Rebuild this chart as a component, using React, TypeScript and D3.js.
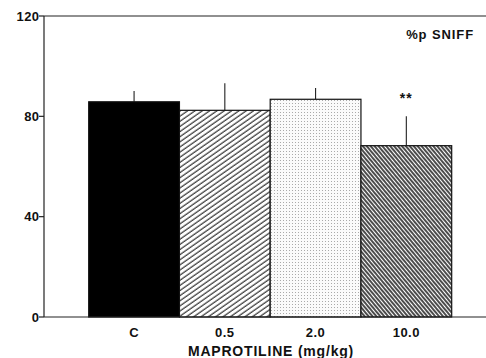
import React from 'react'
import * as d3 from 'd3'

const categories = ['C', '0.5', '2.0', '10.0']
const means = [85.8, 82.4, 86.8, 68.3]
const errTops = [90.1, 93.2, 91.3, 80.0]
const yTicks = [0, 40, 80, 120]
const fills = ['#000', 'url(#hatchFine)', 'url(#dots)', 'url(#hatchDense)']

const W = 486
const H = 358
const FONT = '"Liberation Sans", Arial, sans-serif'

export default function App() {
  const x0 = 44
  const yScale = d3.scaleLinear().domain([0, 120]).range([317, 16])
  const xScale = d3.scaleBand<string>()
    .domain(categories)
    .range([88.7, 451.7])
    .padding(0)

  const txt = (size: number, ls = 0.5) => ({ font: `bold ${size}px ${FONT}`, letterSpacing: `${ls}px` })

  return (
    <svg width={W} height={H} style={{ position: 'absolute', left: 0, top: 0, background: '#fff' }}>
      <defs>
        <pattern id="hatchFine" width="4.2" height="10" patternUnits="userSpaceOnUse" patternTransform="rotate(55)">
          <rect width="4.2" height="10" fill="#fff" />
          <line x1="1" y1="0" x2="1" y2="10" stroke="#222" strokeWidth="1.1" />
        </pattern>
        <pattern id="hatchDense" width="3" height="10" patternUnits="userSpaceOnUse" patternTransform="rotate(-40)">
          <rect width="3" height="10" fill="#fff" />
          <line x1="1" y1="0" x2="1" y2="10" stroke="#111" strokeWidth="1.5" />
        </pattern>
        <pattern id="dots" width="3" height="3" patternUnits="userSpaceOnUse">
          <rect width="3" height="3" fill="#fbfbfb" />
          <rect x="1" y="1" width="1" height="1" fill="#aaa" />
        </pattern>
      </defs>

      {/* frame: left axis and top line */}
      <line x1={x0} y1={yScale(120)} x2={W} y2={yScale(120)} stroke="#222" strokeWidth={1.2} />
      <line x1={x0} y1={yScale(120)} x2={x0} y2={yScale(0)} stroke="#222" strokeWidth={1.2} />

      {yTicks.map(t => (
        <g key={t}>
          <line x1={x0 - 5} x2={x0} y1={yScale(t)} y2={yScale(t)} stroke="#222" strokeWidth={1.2} />
          <text x={39.5} y={yScale(t)} dy="0.35em" textAnchor="end" style={txt(13, 0.4)} fill="#111">{t}</text>
        </g>
      ))}

      {categories.map((c, i) => {
        const bx = xScale(c)!
        const bw = xScale.bandwidth()
        const cx = bx + bw / 2
        return (
          <g key={c}>
            <line x1={cx} x2={cx} y1={yScale(errTops[i])} y2={yScale(means[i])} stroke="#222" strokeWidth={1.1} />
            <rect x={bx} y={yScale(means[i])} width={bw} height={yScale(0) - yScale(means[i])}
              fill={fills[i]} stroke="#111" strokeWidth={1.2} />
            <text x={cx} y={332} dy="0.35em" textAnchor="middle" style={txt(13, 0.5)} fill="#111">{c}</text>
          </g>
        )
      })}

      <line x1={x0} y1={yScale(0)} x2={W} y2={yScale(0)} stroke="#222" strokeWidth={1.2} />

      <text x={xScale('10.0')! + xScale.bandwidth() / 2} y={98} dy="0.35em" textAnchor="middle"
        style={txt(14, 1)} fill="#111">**</text>

      <text x={474} y={34} dy="0.35em" textAnchor="end" style={txt(13, 0.9)} fill="#111">%p SNIFF</text>

      <text x={271} y={351.5} dy="0.35em" textAnchor="middle" style={txt(14, 0.8)} fill="#111">MAPROTILINE (mg/kg)</text>
    </svg>
  )
}
